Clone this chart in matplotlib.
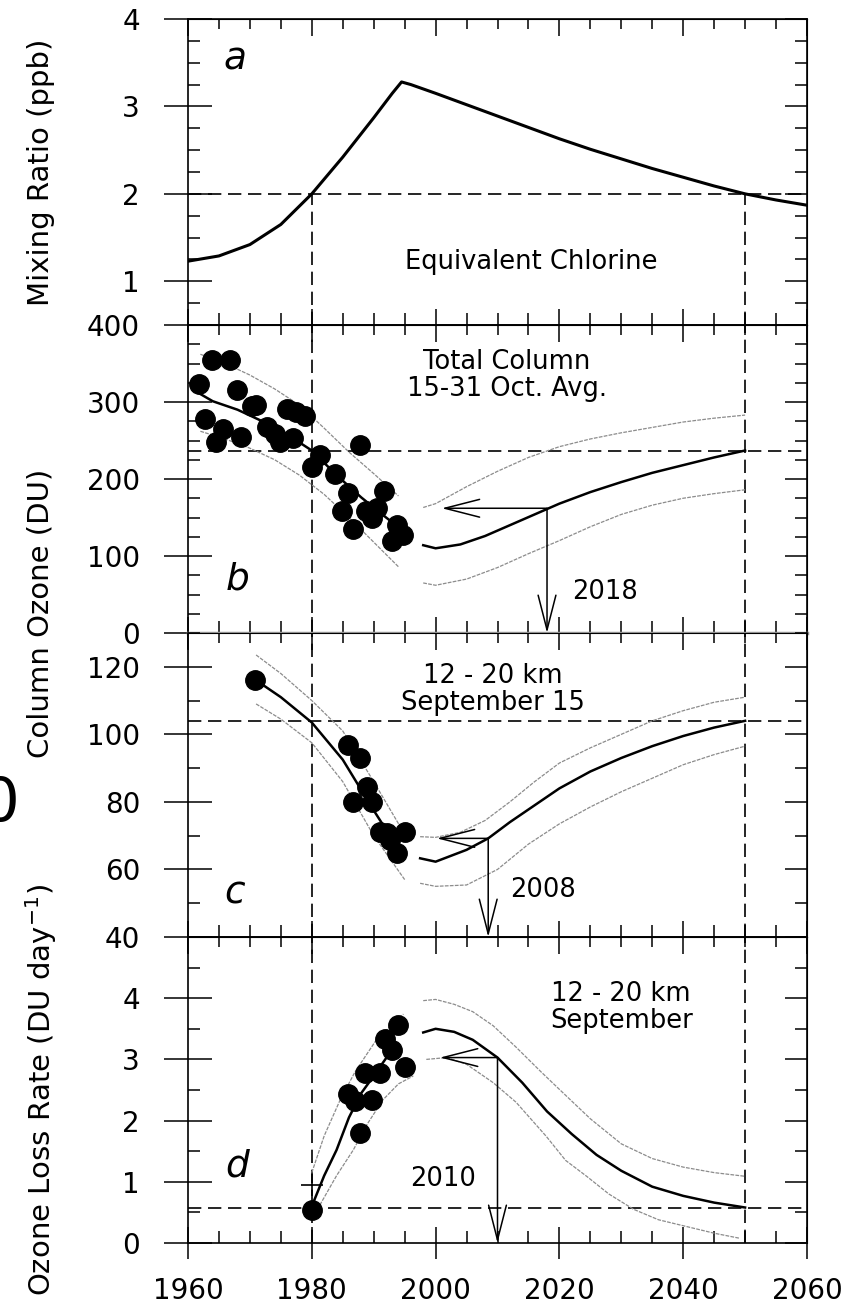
import numpy as np
import matplotlib
matplotlib.use('Agg')
import matplotlib.pyplot as plt
from matplotlib.ticker import MultipleLocator, FixedLocator

# ---- panel a: equivalent chlorine (ppb)
cl_yr = [1960, 1965, 1970, 1975, 1978, 1980, 1985, 1990, 1993, 1994.5, 1996, 2000, 2005, 2010, 2015, 2020, 2025, 2030, 2035, 2040, 2045, 2050, 2055, 2060]
cl_val = [1.23, 1.29, 1.42, 1.65, 1.86, 2.0, 2.42, 2.87, 3.15, 3.28, 3.25, 3.15, 3.02, 2.89, 2.76, 2.63, 2.51, 2.40, 2.29, 2.19, 2.09, 2.0, 1.93, 1.87]

# ---- panel b: total column ozone (DU)
ob_yr = [1961.7, 1962.7, 1963.8, 1964.6, 1965.7, 1966.8, 1967.9, 1968.6, 1970.3, 1971.0, 1972.7, 1974.0, 1974.9, 1976.0, 1977.0, 1977.5, 1978.9, 1980.0, 1981.3, 1983.7, 1984.8, 1985.9, 1986.7, 1987.8, 1988.8, 1989.7, 1990.5, 1991.6, 1992.9, 1993.7, 1994.8]
ob_val = [324, 278, 354, 248, 265, 354, 316, 255, 295, 296, 268, 259, 248, 291, 253, 287, 282, 216, 231, 206, 158, 182, 135, 244, 158, 149, 162, 184, 119, 140, 127]
b_fit_yr = [1961, 1964, 1968, 1972, 1976, 1980, 1984, 1988, 1992, 1995.5]
b_fit = [315, 301, 290, 275, 258, 237, 205, 176, 150, 128]
b_fit_hi_yr = [1962, 1966, 1970, 1974, 1978, 1982, 1986, 1990, 1994]
b_fit_hi = [362, 350, 335, 317, 296, 266, 235, 207, 178]
b_fit_lo_yr = [1962, 1966, 1970, 1974, 1978, 1982, 1986, 1990, 1994]
b_fit_lo = [262, 252, 240, 225, 205, 180, 150, 118, 86]
b_fc_yr = [1998, 2000, 2004, 2008, 2012, 2016, 2020, 2025, 2030, 2035, 2040, 2045, 2050]
b_fc = [114, 110, 115, 126, 140, 154, 168, 183, 196, 208, 218, 228, 237]
b_fc_hi_yr = [1998, 2000, 2005, 2010, 2015, 2020, 2025, 2030, 2035, 2040, 2045, 2050]
b_fc_hi = [163, 168, 190, 210, 228, 242, 252, 260, 267, 274, 279, 283]
b_fc_lo_yr = [1998, 2000, 2005, 2010, 2015, 2020, 2025, 2030, 2035, 2040, 2045, 2050]
b_fc_lo = [65, 62, 70, 85, 103, 120, 138, 154, 166, 175, 181, 186]

# ---- panel c: 12-20 km column ozone (DU)
oc_yr = [1970.8, 1985.9, 1987.8, 1988.9, 1986.7, 1989.7, 1991.0, 1992.1, 1992.6, 1993.7, 1995.0]
oc_val = [116.1, 96.9, 92.9, 84.5, 80.1, 80.1, 71.2, 70.8, 68.7, 64.8, 71.2]
c_fit_yr = [1971, 1975, 1980, 1985, 1990, 1994]
c_fit = [116, 111, 103.5, 92.5, 77.5, 66]
c_fit_hi_yr = [1971, 1975, 1980, 1985, 1990, 1994.5]
c_fit_hi = [123.5, 118, 110, 101, 86, 72]
c_fit_lo_yr = [1971, 1975, 1980, 1985, 1990, 1995]
c_fit_lo = [109, 104.5, 97.5, 86, 70, 57]
c_fc_yr = [1997.5, 2000, 2005, 2008.5, 2012, 2016, 2020, 2025, 2030, 2035, 2040, 2045, 2050]
c_fc = [63.3, 62.3, 65.8, 69.2, 74, 79, 84, 89, 93, 96.5, 99.5, 102, 104]
c_fc_hi_yr = [1997.5, 2000, 2004, 2008, 2012, 2016, 2020, 2025, 2030, 2035, 2040, 2045, 2050]
c_fc_hi = [69.7, 69.5, 71, 74.5, 80, 86, 91.5, 96, 100, 104, 107, 109.5, 111]
c_fc_lo_yr = [1997.5, 2000, 2005, 2010, 2015, 2020, 2025, 2030, 2035, 2040, 2045, 2050]
c_fc_lo = [55.9, 55, 55.4, 60, 67.5, 73.5, 78.5, 83, 87, 91, 94, 96.5]

# ---- panel d: ozone loss rate (DU/day)
od_yr = [1980.0, 1985.9, 1987.0, 1987.8, 1988.6, 1989.8, 1991.0, 1991.8, 1992.9, 1994.0, 1995.0]
od_val = [0.54, 2.44, 2.32, 1.80, 2.77, 2.34, 2.77, 3.34, 3.16, 3.57, 2.88]
d_fit_yr = [1980, 1982, 1984, 1986, 1988, 1990, 1992, 1993.5]
d_fit = [0.6, 1.1, 1.52, 2.05, 2.45, 2.73, 3.02, 3.25]
d_fit_hi_yr = [1980, 1982, 1984.5, 1987, 1990.5, 1994.8]
d_fit_hi = [1.15, 1.75, 2.32, 2.8, 3.33, 3.74]
d_fit_lo_yr = [1981.3, 1984, 1986.7, 1989, 1991.5, 1994, 1996.4]
d_fit_lo = [0.62, 1.1, 1.52, 1.95, 2.34, 2.6, 2.73]
d_fc_yr = [1998, 2000, 2003, 2006, 2010, 2014, 2018, 2022, 2026, 2030, 2035, 2040, 2045, 2050]
d_fc = [3.44, 3.5, 3.45, 3.32, 3.03, 2.62, 2.15, 1.78, 1.44, 1.18, 0.92, 0.77, 0.66, 0.58]
d_fc_hi_yr = [1998, 2000, 2003, 2006, 2009.3, 2013, 2017, 2020, 2025, 2030, 2035, 2040, 2045, 2050]
d_fc_hi = [3.96, 3.98, 3.9, 3.78, 3.55, 3.2, 2.8, 2.51, 2.03, 1.62, 1.38, 1.24, 1.15, 1.09]
d_fc_lo_yr = [1998.5, 2001.8, 2005, 2009.3, 2013, 2017.9, 2021, 2024.4, 2028, 2032, 2036, 2040.5, 2045, 2049]
d_fc_lo = [3.0, 3.03, 2.92, 2.62, 2.3, 1.74, 1.35, 1.09, 0.8, 0.55, 0.38, 0.27, 0.16, 0.08]

# reference levels / recovery years
ref_yr = [1980, 2050]
ref_level = {'a': 2.0, 'b': 237, 'c': 104, 'd': 0.58}
recov = {'b': (2018, 162, 2001), 'c': (2008.5, 69.2, 2000.2), 'd': (2010, 3.03, 2000.7)}

W, H = 861, 1312
fig = plt.figure(figsize=(W / 100, H / 100), dpi=100)
L, R = 188, 807
edges = [19, 325, 633, 937, 1243]
axs = []
for i in range(4):
    top, bot = edges[i], edges[i + 1]
    axs.append(fig.add_axes([L / W, 1 - bot / H, (R - L) / W, (bot - top) / H]))
ax_a, ax_b, ax_c, ax_d = axs

ylims = [(0.5, 4), (0, 400), (40, 130), (0, 5)]
majors = [[1, 2, 3, 4], [0, 100, 200, 300, 400], [40, 60, 80, 100, 120], [0, 1, 2, 3, 4]]
minors = [0.25, 25, 10, 0.5]

dash = (0, (8, 4))
fitkw = dict(color='k', lw=1.8)
bandkw = dict(color='0.55', lw=0.9, ls=(0, (3, 1)))
dotkw = dict(ls='none', marker='o', ms=14, color='k')
txtkw = dict(fontsize=18.5, ha='center', va='center', linespacing=1.05)
letkw = dict(fontsize=27, style='italic', ha='center', va='center')

for i, ax in enumerate(axs):
    ax.set_xlim(1960, 2060)
    ax.set_ylim(*ylims[i])
    ax.xaxis.set_major_locator(MultipleLocator(20))
    ax.xaxis.set_minor_locator(MultipleLocator(5))
    ax.yaxis.set_major_locator(FixedLocator(majors[i]))
    ax.yaxis.set_minor_locator(MultipleLocator(minors[i]))
    ax.tick_params(axis='x', which='major', direction='inout', length=23, width=1.1,
                   labelsize=20, pad=13, top=False, labelbottom=(i == 3))
    ax.tick_params(axis='x', which='minor', direction='in', length=8.5, width=1.1, top=False)
    ax.tick_params(axis='y', which='major', direction='inout', length=35, width=1.1,
                   labelsize=20, pad=17, right=False)
    ax.tick_params(axis='y', which='minor', direction='in', length=8.5, width=1.1, right=False)
    sx = ax.secondary_xaxis('top')
    sx.xaxis.set_major_locator(MultipleLocator(20))
    sx.xaxis.set_minor_locator(MultipleLocator(5))
    sx.tick_params(axis='x', which='major', direction='in', length=12, width=1.1, labeltop=False)
    sx.tick_params(axis='x', which='minor', direction='in', length=7.5, width=1.1)
    sy = ax.secondary_yaxis('right')
    sy.yaxis.set_major_locator(FixedLocator(majors[i]))
    sy.yaxis.set_minor_locator(MultipleLocator(minors[i]))
    sy.tick_params(axis='y', which='major', direction='in', length=16, width=1.1, labelright=False)
    sy.tick_params(axis='y', which='minor', direction='in', length=8.5, width=1.1)
    for s in ax.spines.values():
        s.set_linewidth(1.2)
    key = 'abcd'[i]
    ax.axhline(ref_level[key], color='k', lw=1.2, ls=dash)
    for yr in ref_yr:
        if key == 'a':
            ax.plot([yr, yr], [0.5, ref_level['a']], color='k', lw=1.2, ls=dash)
        else:
            ax.axvline(yr, color='k', lw=1.2, ls=dash)

ax_b.spines['bottom'].set_color('0.6')
ax_b.spines['bottom'].set_linewidth(2.5)

# panel a
ax_a.plot(cl_yr, cl_val, color='k', lw=2.2)
ax_a.text(2015.4, 1.22, 'Equivalent Chlorine', **txtkw)
ax_a.text(1967.6, 3.54, 'a', **letkw)

# panel b
ax_b.plot(b_fit_yr, b_fit, **fitkw)
ax_b.plot(b_fit_hi_yr, b_fit_hi, **bandkw)
ax_b.plot(b_fit_lo_yr, b_fit_lo, **bandkw)
ax_b.plot(b_fc_yr, b_fc, **fitkw)
ax_b.plot(b_fc_hi_yr, b_fc_hi, **bandkw)
ax_b.plot(b_fc_lo_yr, b_fc_lo, **bandkw)
ax_b.plot(ob_yr, ob_val, **dotkw)
ax_b.text(2011.5, 335, 'Total Column\n15-31 Oct. Avg.', **txtkw)
ax_b.text(1968, 69, 'b', **letkw)

# panel c
ax_c.plot(c_fit_yr, c_fit, **fitkw)
ax_c.plot(c_fit_hi_yr, c_fit_hi, **bandkw)
ax_c.plot(c_fit_lo_yr, c_fit_lo, **bandkw)
ax_c.plot(c_fc_yr, c_fc, **fitkw)
ax_c.plot(c_fc_hi_yr, c_fc_hi, **bandkw)
ax_c.plot(c_fc_lo_yr, c_fc_lo, **bandkw)
ax_c.plot(oc_yr, oc_val, **dotkw)
ax_c.text(2009.3, 113.2, '12 - 20 km\nSeptember 15', **txtkw)
ax_c.text(1967.6, 53, 'c', **letkw)
ax_c.spines['top'].set_visible(False)

# panel d
ax_d.plot(d_fit_yr, d_fit, **fitkw)
ax_d.plot(d_fit_hi_yr, d_fit_hi, **bandkw)
ax_d.plot(d_fit_lo_yr, d_fit_lo, **bandkw)
ax_d.plot(d_fc_yr, d_fc, **fitkw)
ax_d.plot(d_fc_hi_yr, d_fc_hi, **bandkw)
ax_d.plot(d_fc_lo_yr, d_fc_lo, **bandkw)
ax_d.plot(od_yr, od_val, **dotkw)
ax_d.plot([1980], [0.95], marker='+', ms=16, mew=1.2, color='k', ls='none')
ax_d.text(2030, 3.85, '12 - 20 km\nSeptember', **txtkw)
ax_d.text(1968, 1.25, 'd', **letkw)

# recovery arrows
arr = dict(arrowstyle='->,head_length=1.25,head_width=0.32', lw=1.1, color='k',
           shrinkA=0, shrinkB=0, mutation_scale=20)
for key, ax, bottom in [('b', ax_b, 0), ('c', ax_c, 40), ('d', ax_d, 0)]:
    yr, lev, back = recov[key]
    ax.annotate('', xy=(back, lev), xytext=(yr, lev), arrowprops=arr)
    ax.annotate('', xy=(yr, bottom), xytext=(yr, lev), arrowprops=arr)
ax_b.text(2022, 53, '2018', fontsize=18.5, ha='left', va='center')
ax_c.text(2012, 54, '2008', fontsize=18.5, ha='left', va='center')
ax_d.text(1995.9, 1.05, '2010', fontsize=18.5, ha='left', va='center')

# y labels
fig.text(41 / W, 1 - 172 / H, 'Mixing Ratio (ppb)', rotation=90, fontsize=21, ha='center', va='center')
fig.text(41 / W, 1 - 613 / H, 'Column Ozone (DU)', rotation=90, fontsize=21, ha='center', va='center')
fig.text(41 / W, 1 - 1090 / H, 'Ozone Loss Rate (DU day$^{-1}$)', rotation=90, fontsize=21,
         ha='center', va='center')
fig.text(0.0, 1 - 805 / H, '0', fontsize=44, ha='center', va='center')

fig.savefig('out.png', dpi=100)
